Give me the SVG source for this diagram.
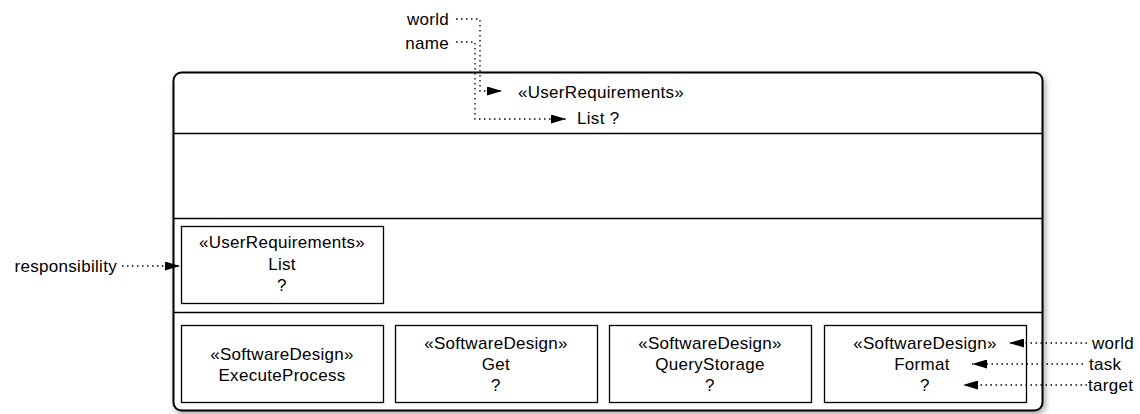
<svg xmlns="http://www.w3.org/2000/svg" width="1140" height="414" viewBox="0 0 1140 414">
<style>
text{font-family:"Liberation Sans",Arial,Helvetica,sans-serif;font-size:17px;letter-spacing:0.3px;fill:#000}
.c{text-anchor:middle}
.r{text-anchor:end}
.box{fill:#fff;stroke:#000;stroke-width:1.3}
.div{stroke:#000;stroke-width:1.3;fill:none}
.dot{fill:none;stroke:#000;stroke-width:1.3;stroke-dasharray:1.5 3.5}
</style>
<defs>
<marker id="ah" markerWidth="15" markerHeight="9" refX="15" refY="4.5" orient="auto" markerUnits="userSpaceOnUse">
<path d="M0,0 L15,4.5 L0,9 Z" fill="#000"/>
</marker>
<filter id="sh" x="-5%" y="-5%" width="110%" height="115%">
<feGaussianBlur in="SourceAlpha" stdDeviation="3"/>
<feOffset dx="2" dy="3" result="b"/>
<feComponentTransfer><feFuncA type="linear" slope="0.35"/></feComponentTransfer>
<feMerge><feMergeNode/><feMergeNode in="SourceGraphic"/></feMerge>
</filter>
</defs>
<g id="container">
<rect x="173.5" y="72.5" width="869" height="338" rx="8" ry="8" fill="#fff" stroke="#000" stroke-width="2" filter="url(#sh)"/>
<line class="div" x1="174" y1="133.5" x2="1042" y2="133.5"/>
<line class="div" x1="174" y1="218.5" x2="1042" y2="218.5"/>
<line class="div" x1="174" y1="312.5" x2="1042" y2="312.5"/>
<text class="c" x="601" y="98">«UserRequirements»</text>
<text x="577" y="124">List ?</text>
</g>
<g id="ur-list">
<rect class="box" x="181.5" y="226.5" width="202" height="77"/>
<text class="c" x="282" y="248">«UserRequirements»</text>
<text class="c" x="282" y="270">List</text>
<text class="c" x="282" y="291">?</text>
</g>
<g id="sd-execute">
<rect class="box" x="181.5" y="325.5" width="202" height="77"/>
<text class="c" x="282" y="360">«SoftwareDesign»</text>
<text class="c" x="282" y="381">ExecuteProcess</text>
</g>
<g id="sd-get">
<rect class="box" x="395.5" y="325.5" width="202" height="77"/>
<text class="c" x="496" y="349">«SoftwareDesign»</text>
<text class="c" x="496" y="370">Get</text>
<text class="c" x="496" y="391">?</text>
</g>
<g id="sd-query">
<rect class="box" x="609.5" y="325.5" width="202" height="77"/>
<text class="c" x="710" y="349">«SoftwareDesign»</text>
<text class="c" x="710" y="370">QueryStorage</text>
<text class="c" x="710" y="391">?</text>
</g>
<g id="sd-format">
<rect class="box" x="824.5" y="325.5" width="202" height="77"/>
<text class="c" x="925" y="349">«SoftwareDesign»</text>
<text class="c" x="922" y="370">Format</text>
<text class="c" x="925" y="391">?</text>
</g>
<g id="labels">
<text class="r" x="449" y="25">world</text>
<text class="r" x="449" y="49">name</text>
<text class="r" x="117" y="272">responsibility</text>
<text x="1092" y="349">world</text>
<text x="1089" y="370">task</text>
<text x="1088" y="391">target</text>
</g>
<g id="connectors">
<polyline class="dot" points="456,19 480,19 480,91 502,91" marker-end="url(#ah)"/>
<polyline class="dot" points="456,42 475,42 475,119 566,119" marker-end="url(#ah)"/>
<line class="dot" x1="122" y1="266" x2="180" y2="266" marker-end="url(#ah)"/>
<line class="dot" x1="1087" y1="343" x2="1009" y2="343" marker-end="url(#ah)"/>
<line class="dot" x1="1083" y1="364" x2="972" y2="364" marker-end="url(#ah)"/>
<line class="dot" x1="1087" y1="385" x2="963" y2="385" marker-end="url(#ah)"/>
</g>
</svg>
